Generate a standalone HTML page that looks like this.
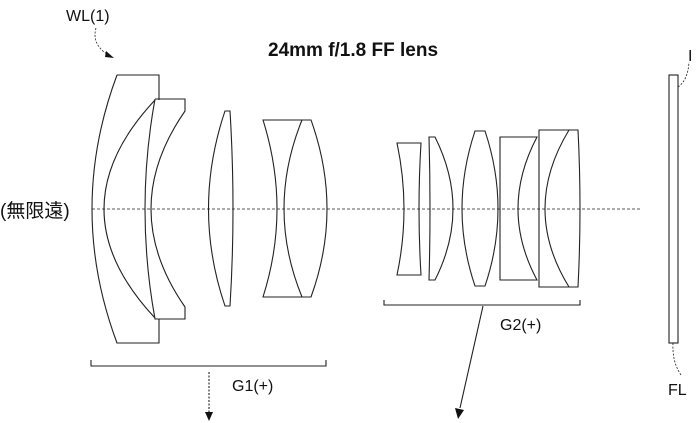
<!DOCTYPE html>
<html><head><meta charset="utf-8"><style>
body{margin:0;background:#fff;width:700px;height:423px;overflow:hidden}
svg{display:block}
text{font-family:"Liberation Sans","Noto Sans CJK JP",sans-serif;fill:#111}
</style></head><body>
<svg width="700" height="423" viewBox="0 0 700 423">
<g fill="none" stroke="#222" stroke-width="1.1">
<line x1="92" y1="209" x2="640" y2="209" stroke-dasharray="3,2" stroke-width="0.8"/>
<path d="M117,75 H159 V100 M159,319 V343 H117 Q67,209 117,75"/>
<path d="M155,100 Q53,209 155,318"/>
<path d="M155,99 H185 V111 Q117,209 185,307 V319 H155 Q135,209 155,99"/>
<path d="M225,111 H230 Q236,209 230,306 H225 Q192,209 225,111Z"/>
<path d="M263,120 H311 Q343,209 311,297 H263 Q291,209 263,120Z"/>
<path d="M302,120 Q266,209 302,297"/>
<path d="M397,143 H421 Q417,209 421,275 H397 Q411,209 397,143Z"/>
<path d="M429,137 H435 Q471,209 435,280 H429 Q431,209 429,137Z"/>
<path d="M475,131 H485 Q511,209 485,286 H475 Q449,209 475,131Z"/>
<path d="M500,137 H537 Q499,209 537,280 H500 Z"/>
<path d="M539,130 H578 Q582,209 578,287 H539 Z"/>
<path d="M569,130 Q521,209 569,287"/>
<rect x="669" y="75" width="9" height="268"/>
<path d="M678,87 Q688,80 689,62" stroke-dasharray="2,1.5" stroke-width="0.8"/>
<path d="M673,343 Q672,362 681,375" stroke-dasharray="2,1.5" stroke-width="0.8"/>
<path d="M91,360 V366 H326 V360"/>
<path d="M384,300 V305 H580 V300"/>
<line x1="209" y1="372" x2="209" y2="412" stroke-dasharray="2,1.5"/>
<line x1="483" y1="306" x2="460" y2="408"/>
<path d="M96,28 Q92,42 104,52 L110,56" stroke-dasharray="2,1.5" stroke-width="0.8"/>
</g>
<g fill="#111">
<path d="M205,412 L213,412 L209,421Z"/>
<path d="M455,408 L464,410 L458,419Z"/>
<path d="M106,51 L114,58 L105,57Z"/>
</g>
<text x="66" y="21" font-size="16">WL(1)</text>
<text x="268" y="56" font-size="19" font-weight="bold">24mm f/1.8 FF lens</text>
<text x="0" y="217" font-size="19">(無限遠)</text>
<text x="232" y="391" font-size="16">G1(+)</text>
<text x="500" y="330" font-size="16">G2(+)</text>
<text x="668" y="395" font-size="16">FL</text>
<text x="688" y="61" font-size="16" font-family="Liberation Serif">I</text>
</svg>
</body></html>
